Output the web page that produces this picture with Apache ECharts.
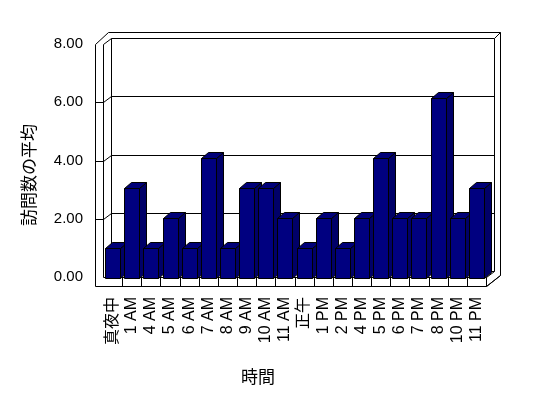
<!DOCTYPE html>
<html>
<head>
<meta charset="utf-8">
<script src="https://cdn.jsdelivr.net/npm/echarts@6/dist/echarts.min.js"></script>
<style>
  html, body { margin: 0; padding: 0; background: #fff; }
  #main { width: 548px; height: 398px; }
</style>
</head>
<body>
<div id="main"></div>
<script>
// 時間帯ごとの訪問数の平均
var categories = ['真夜中', '1 AM', '4 AM', '5 AM', '6 AM', '7 AM', '8 AM', '9 AM', '10 AM', '11 AM',
  '正午', '1 PM', '2 PM', '4 PM', '5 PM', '6 PM', '7 PM', '8 PM', '10 PM', '11 PM'];
var visits = [1, 3, 1, 2, 1, 4, 1, 3, 3, 2, 1, 2, 1, 2, 4, 2, 2, 6, 2, 3];
var yTicks = [0, 2, 4, 6, 8];

var chart = echarts.init(document.getElementById('main'), null, { renderer: 'canvas' });

function px(v) { return Math.round(v) + 0.5; }

function seg(x1, y1, x2, y2) {
  return {
    type: 'line',
    shape: { x1: px(x1), y1: px(y1), x2: px(x2), y2: px(y2) },
    style: { stroke: '#000', lineWidth: 1 }
  };
}

// 3D風の壁と床
function renderFrame(params, api) {
  var cs = params.coordSys;
  var x0 = cs.x, x1 = cs.x + cs.width, yT = cs.y, yB = cs.y + cs.height;
  var dx = 8, dy = -6;        // 奥行き
  var wallW = 8, floorH = 9;  // 壁・床の厚み
  var L = x0 - wallW;
  var bx0 = x0 + dx, bx1 = x1 + dx, byT = yT + dy, byB = yB + dy;
  var ox1 = bx1 + 6, oyT = byT - 6;
  var bw = cs.width / categories.length;

  var children = [];
  // 外形
  children.push({
    type: 'polygon',
    shape: { points: [[px(L), px(yT)], [px(L + 13), px(oyT)], [px(ox1), px(oyT)], [px(ox1), px(byB + 4)],
      [px(x1), px(yB + floorH)], [px(L), px(yB + floorH)]] },
    style: { fill: '#fff', stroke: '#000', lineWidth: 1 }
  });
  children.push(seg(x0, yT, x0, yB));
  children.push(seg(x0, yT, bx0, byT));
  children.push(seg(bx0, byT, bx1, byT));
  children.push(seg(bx0, byT, bx0, byB));
  children.push(seg(bx1, byT, bx1, byB));
  children.push(seg(bx1, byT, ox1, oyT));
  // 目盛線
  yTicks.forEach(function (v) {
    if (v === 0 || v === 8) return;
    var y = api.coord([0, v])[1];
    children.push(seg(L, y, x0, y));
    children.push(seg(x0, y, bx0, y + dy));
    children.push(seg(bx0, y + dy, bx1, y + dy));
  });
  // 床
  children.push(seg(x0, yB, x1, yB));
  children.push(seg(bx0, byB, bx1, byB));
  children.push(seg(x1, yB, x1, yB + floorH));
  children.push(seg(x1, yB, bx1, byB));
  children.push(seg(x1, yB + floorH, ox1, byB + 4));
  for (var i = 1; i < categories.length; i++) {
    var x = x0 + i * bw;
    children.push(seg(x, yB, x, yB + floorH));
  }
  return { type: 'group', children: children };
}

// 3D棒
function renderBar(params, api) {
  var idx = api.value(0);
  var p = api.coord([idx, api.value(1)]);
  var base = api.coord([idx, 0]);
  var bw = api.size([1, 0])[0];
  var w = Math.round(bw * 0.79);
  var l = Math.round(p[0] - w / 2) + 0.5;
  var r = l + w;
  var t = Math.round(p[1]) + 0.5;
  var b = Math.round(base[1]) + 0.5;
  var dx = 7, dy = -6;
  var st = { stroke: '#000', lineWidth: 1 };
  return {
    type: 'group',
    children: [
      { type: 'polygon', shape: { points: [[r, t], [r + dx, t + dy], [r + dx, b + dy], [r, b]] },
        style: Object.assign({ fill: '#000068' }, st) },
      { type: 'polygon', shape: { points: [[l, t], [r, t], [r + dx, t + dy], [l + dx, t + dy]] },
        style: Object.assign({ fill: '#000078' }, st) },
      { type: 'rect', shape: { x: l, y: t, width: w, height: b - t },
        style: Object.assign({ fill: '#000080' }, st) }
    ]
  };
}

var option = {
  animation: false,
  backgroundColor: '#fff',
  grid: [
    { left: 103, right: 62, top: 44, bottom: 121 },
    { left: 103, right: 62, top: 38, bottom: 120 }
  ],
  xAxis: [{
    type: 'category',
    gridIndex: 0,
    data: categories,
    axisLine: { show: false },
    axisTick: { show: false },
    axisLabel: {
      rotate: 90,
      margin: 20,
      interval: 0,
      fontSize: 16,
      color: '#000',
      fontFamily: 'Liberation Sans, Noto Sans CJK JP'
    }
  }, {
    type: 'category',
    gridIndex: 1,
    data: categories,
    show: false
  }],
  yAxis: [{
    type: 'value',
    gridIndex: 0,
    min: 0,
    max: 8,
    interval: 2,
    axisLine: { show: false },
    axisTick: { show: false },
    splitLine: { show: false },
    axisLabel: {
      margin: 20,
      fontSize: 15,
      color: '#000',
      fontFamily: 'Liberation Sans',
      formatter: function (v) { return v.toFixed(2); }
    }
  }, {
    type: 'value',
    gridIndex: 1,
    min: 0,
    max: 8,
    show: false
  }],
  graphic: [{
    type: 'text',
    x: 29,
    y: 175,
    rotation: Math.PI / 2,
    style: {
      text: '訪問数の平均',
      fill: '#000',
      fontSize: 17,
      fontFamily: 'Noto Sans CJK JP',
      align: 'center',
      verticalAlign: 'middle'
    }
  }, {
    type: 'text',
    x: 258,
    y: 377,
    style: {
      text: '時間',
      fill: '#000',
      fontSize: 17,
      fontFamily: 'Noto Sans CJK JP',
      align: 'center',
      verticalAlign: 'middle'
    }
  }],
  series: [{
    type: 'custom',
    name: 'frame',
    xAxisIndex: 0,
    yAxisIndex: 0,
    silent: true,
    clip: false,
    renderItem: renderFrame,
    data: [[0, 0]]
  }, {
    type: 'custom',
    name: '訪問数の平均',
    xAxisIndex: 1,
    yAxisIndex: 1,
    clip: false,
    renderItem: renderBar,
    encode: { x: 0, y: 1 },
    data: visits.map(function (v, i) { return [i, v]; })
  }]
};

chart.setOption(option);
</script>
</body>
</html>
